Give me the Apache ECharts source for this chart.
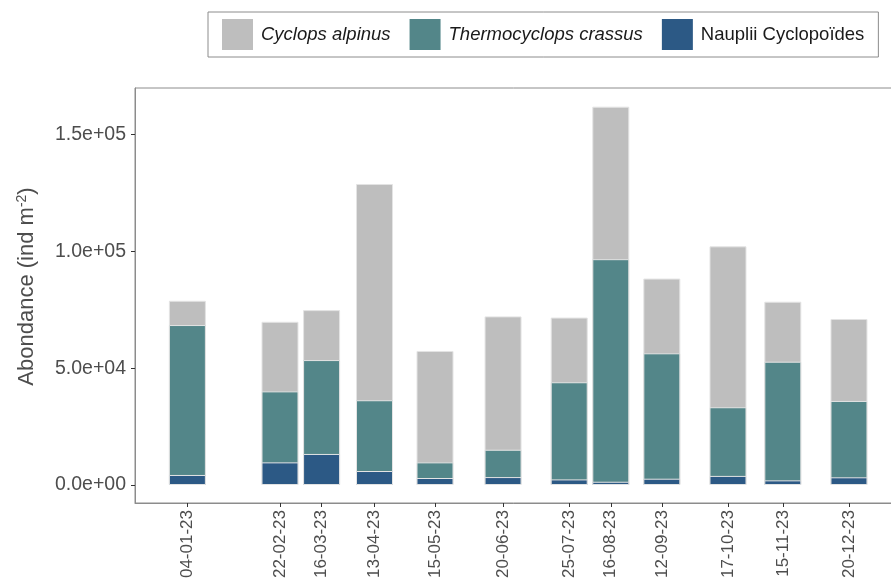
<!DOCTYPE html>
<html>
<head>
    <meta charset="utf-8">
    <title>Abondance des cyclopoïdes</title>
    <script src="https://cdn.jsdelivr.net/npm/echarts@6.0.0/dist/echarts.min.js"></script>
    <style>
        html, body { margin: 0; padding: 0; background: #fff; }
        #chart { width: 891px; height: 579px; }
    </style>
</head>
<body>
    <div id="chart"></div>
    <script>
        // dates des prélèvements (JJ-MM-AA)
        const dates = ['04-01-23', '22-02-23', '16-03-23', '13-04-23', '15-05-23', '20-06-23',
                       '25-07-23', '16-08-23', '12-09-23', '17-10-23', '15-11-23', '20-12-23'];

        // abondances (ind m-2)
        const nauplii = [4300, 9700, 13300, 6000, 3000, 3400, 2400, 1400, 2700, 3900, 2000, 3300];
        const thermocyclops = [64200, 30400, 40200, 30300, 6700, 11700, 41600, 95300, 53700, 29400, 50800, 32700];
        const alpinus = [10400, 29800, 21400, 92600, 47700, 57100, 27700, 65300, 32000, 68900, 25700, 35100];

        const yTicks = [0, 50000, 100000, 150000];

        const chart = echarts.init(document.getElementById('chart'));

        function toTime(d) {
            const p = d.split('-');
            return Date.UTC(2000 + (+p[2]), +p[1] - 1, +p[0]);
        }
        const times = dates.map(toTime);

        function pad(n) { return (n < 10 ? '0' : '') + n; }
        function fmtDate(t) {
            const d = new Date(t);
            return pad(d.getUTCDate()) + '-' + pad(d.getUTCMonth() + 1) + '-' + pad(d.getUTCFullYear() % 100);
        }
        // notation scientifique façon R
        function sci(v) {
            if (v === 0) return '0.0e+00';
            const e = Math.floor(Math.log10(Math.abs(v)));
            const m = v / Math.pow(10, e);
            return m.toFixed(1) + 'e' + (e < 0 ? '-' : '+') + pad(Math.abs(e));
        }

        // le stack ne marche pas sur un axe 'value' : on empile à la main (cumuls superposés)
        const cumN = nauplii.slice();
        const cumT = thermocyclops.map((v, i) => v + cumN[i]);
        const cumC = alpinus.map((v, i) => v + cumT[i]);

        const txt = '#4d4d4d';
        const lineCol = '#8c8c8c';

        function mkSeries(name, values, color, z) {
            return {
                name: name,
                type: 'bar',
                barWidth: 37,
                barGap: '-100%',
                z: z,
                itemStyle: { color: color, borderColor: '#e4e4e4', borderWidth: 1 },
                emphasis: { disabled: true },
                data: values.map((v, i) => [times[i], v])
            };
        }

        chart.setOption({
            animation: false,
            textStyle: { fontFamily: 'Liberation Sans, Arial, sans-serif' },
            legend: {
                left: 208,
                top: 12,
                padding: [7, 14, 7, 14],
                icon: 'rect',
                itemWidth: 31,
                itemHeight: 31,
                itemGap: 19,
                itemStyle: { borderWidth: 0 },
                borderColor: '#8c8c8c',
                borderWidth: 1,
                textStyle: { fontSize: 18.5, color: '#1a1a1a', padding: [0, 0, 0, 3] },
                data: [
                    { name: 'Cyclops alpinus', textStyle: { fontStyle: 'italic' } },
                    { name: 'Thermocyclops crassus', textStyle: { fontStyle: 'italic' } },
                    { name: 'Nauplii Cyclopoïdes' }
                ]
            },
            grid: {
                left: 135,
                top: 88,
                right: -2,
                bottom: 76,
                outerBoundsMode: 'none',
                containLabel: false,
                show: true,
                borderColor: lineCol,
                borderWidth: 1
            },
            xAxis: {
                type: 'value',
                min: Date.UTC(2022, 11, 7, 7),
                max: Date.UTC(2024, 0, 12, 7),
                axisLine: { show: true, onZero: false, lineStyle: { color: lineCol } },
                axisTick: { show: true, length: 4, lineStyle: { color: '#333' }, customValues: times },
                axisLabel: {
                    customValues: times,
                    rotate: 90,
                    fontSize: 17,
                    color: txt,
                    margin: 7,
                    formatter: v => fmtDate(v)
                },
                splitLine: { show: false }
            },
            yAxis: {
                type: 'value',
                min: -7700,
                max: 170000,
                name: 'Abondance (ind m{sup|-2})',
                nameLocation: 'middle',
                nameRotate: 90,
                nameGap: 96,
                nameTextStyle: {
                    fontSize: 22,
                    color: txt,
                    padding: [0, 0, 0, 18],
                    rich: {
                        sup: { fontSize: 14, color: txt, padding: [0, 0, 10, 0] }
                    }
                },
                axisLine: { show: true, lineStyle: { color: lineCol } },
                axisTick: { show: true, length: 4, lineStyle: { color: '#333' }, customValues: yTicks },
                axisLabel: {
                    customValues: yTicks,
                    fontSize: 19.5,
                    color: txt,
                    margin: 9,
                    formatter: v => sci(v)
                },
                splitLine: { show: false }
            },
            series: [
                mkSeries('Cyclops alpinus', cumC, '#bebebe', 2),
                mkSeries('Thermocyclops crassus', cumT, '#538689', 3),
                mkSeries('Nauplii Cyclopoïdes', cumN, '#2c5985', 4)
            ]
        });
    </script>
</body>
</html>
